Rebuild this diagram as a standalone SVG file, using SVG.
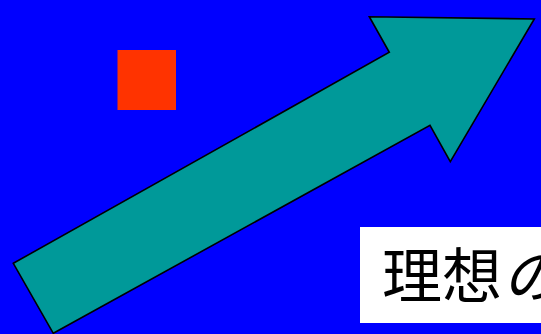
<svg xmlns="http://www.w3.org/2000/svg" width="541" height="334" viewBox="0 0 541 334">
<style>
.arrow{fill:#009999;stroke:#000;stroke-width:1.6;stroke-linejoin:miter}
.label{font-family:"Noto Sans CJK JP","Noto Sans CJK SC",sans-serif;font-size:60px;fill:#000}
</style>
<rect x="0" y="0" width="541" height="334" fill="#0000FF"/>
<g id="square"><rect x="117.5" y="50" width="58.5" height="60" fill="#FF3300"/></g>
<g id="arrow"><polygon class="arrow" points="13.3,263.3 389.3,52.3 369.3,16.7 534.3,19 450.3,161.7 430,125.3 53.3,333.3"/></g>
<g id="label">
<rect x="360" y="227" width="190" height="96" fill="#FFFFFF"/>
<text class="label" x="382" y="298">理想<tspan font-style="italic">の</tspan></text>
</g>
</svg>
